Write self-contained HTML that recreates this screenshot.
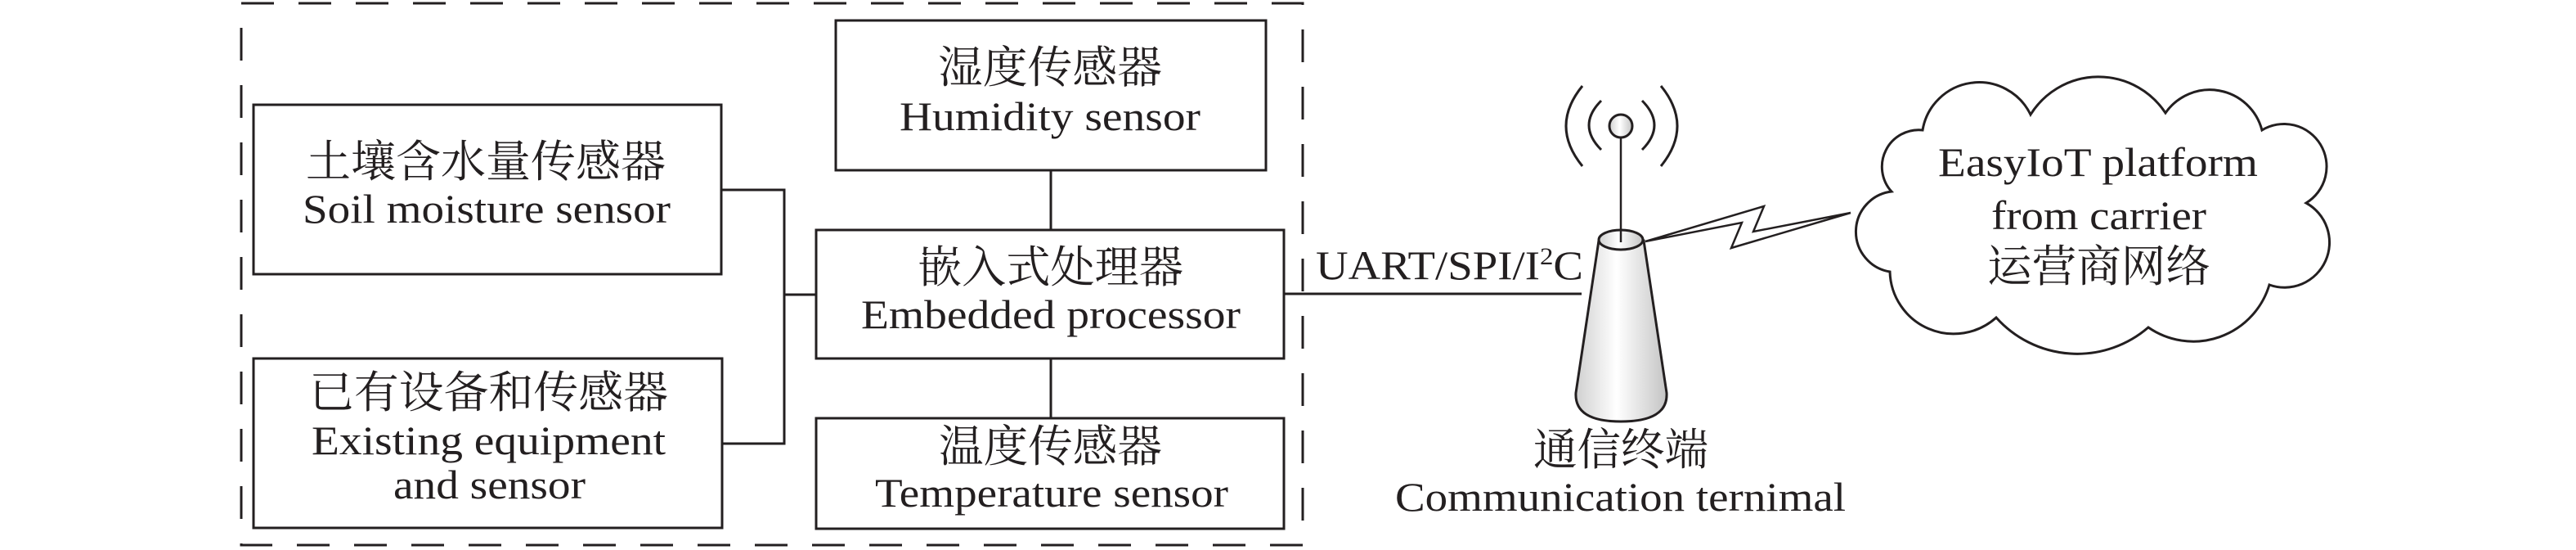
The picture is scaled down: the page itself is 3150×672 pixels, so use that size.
<!DOCTYPE html>
<html><head><meta charset="utf-8"><style>
html,body{margin:0;padding:0;background:#fff;}
svg{display:block;}
.l{font-family:"Liberation Serif",serif;font-size:50px;fill:#231f20;}
.c{font-family:"Liberation Serif","Noto Serif CJK SC",serif;font-size:54px;fill:#231f20;}
</style></head><body>
<svg width="3150" height="672" viewBox="0 0 3150 672" xmlns="http://www.w3.org/2000/svg">
<defs>
<linearGradient id="g" x1="0" x2="1" y1="0" y2="0">
<stop offset="0" stop-color="#d0d0d0"/><stop offset="0.45" stop-color="#ffffff"/><stop offset="1" stop-color="#c4c4c4"/>
</linearGradient>
</defs>
<g fill="none" stroke="#231f20" stroke-width="3">
<rect x="295" y="4" width="1298" height="662" stroke-dasharray="40 30"/>
<rect x="310" y="128" width="572" height="207"/>
<rect x="310" y="438" width="573" height="207"/>
<rect x="1022" y="25" width="526" height="183"/>
<rect x="998" y="281" width="572" height="157"/>
<rect x="998" y="511" width="572" height="135"/>
<polyline points="882,232 959,232 959,542 883,542"/>
<line x1="959" y1="360" x2="998" y2="360"/>
<line x1="1285" y1="208" x2="1285" y2="281"/>
<line x1="1285" y1="438" x2="1285" y2="511"/>
<line x1="1570" y1="359" x2="1934" y2="359"/>
<path d="M1958,123 Q1928,153 1958,183"/>
<path d="M2008,123 Q2038,153 2008,183"/>
<path d="M1935,105 Q1895,154 1935,203"/>
<path d="M2031,105 Q2071,154 2031,203"/>
<path d="M1955,294 L1927,480 Q1925,515 1982,515 Q2040,515 2038,480 L2010,294 Z" fill="url(#g)"/>
<ellipse cx="1982" cy="293" rx="27" ry="12" fill="url(#g)"/>
<line x1="1982" y1="168" x2="1982" y2="296" stroke-width="2.5"/>
<circle cx="1982" cy="154" r="14" fill="url(#g)"/>
<path d="M2012,295 L2157,252 L2144,283 L2263,260 L2117,303 L2130,272 Z" fill="#fff" stroke-width="2.5"/>
<path d="M2313,234 A45,45 0 0 1 2351,159 A70,70 0 0 1 2483,140 A98,98 0 0 1 2648,138 A66,66 0 0 1 2766,159 A52,52 0 0 1 2820,248 A55,55 0 0 1 2775,348 A97,97 0 0 1 2627,400 A133,133 0 0 1 2441,388 A78,78 0 0 1 2311,332 A49.5,49.5 0 0 1 2313,234 Z" fill="#fff"/>
</g>
<text class="c" x="1147" y="101" textLength="274" lengthAdjust="spacingAndGlyphs">湿度传感器</text>
<text class="l" x="1100" y="159" textLength="368" lengthAdjust="spacingAndGlyphs">Humidity sensor</text>
<text class="c" x="374" y="216" textLength="440" lengthAdjust="spacingAndGlyphs">土壤含水量传感器</text>
<text class="l" x="370" y="272" textLength="450" lengthAdjust="spacingAndGlyphs">Soil moisture sensor</text>
<text class="c" x="1122" y="345" textLength="325" lengthAdjust="spacingAndGlyphs">嵌入式处理器</text>
<text class="l" x="1053" y="401" textLength="464" lengthAdjust="spacingAndGlyphs">Embedded processor</text>
<text class="c" x="378" y="498" textLength="439" lengthAdjust="spacingAndGlyphs">已有设备和传感器</text>
<text class="l" x="381" y="555" textLength="433" lengthAdjust="spacingAndGlyphs">Existing equipment</text>
<text class="l" x="481" y="609" textLength="235" lengthAdjust="spacingAndGlyphs">and sensor</text>
<text class="c" x="1148" y="564" textLength="273" lengthAdjust="spacingAndGlyphs">温度传感器</text>
<text class="l" x="1070" y="619" textLength="432" lengthAdjust="spacingAndGlyphs">Temperature sensor</text>
<text class="l" x="1609" y="341" textLength="327" lengthAdjust="spacingAndGlyphs">UART/SPI/I<tspan font-size="30" dy="-18">2</tspan><tspan dy="18">C</tspan></text>
<text class="c" x="1875" y="568" textLength="214" lengthAdjust="spacingAndGlyphs">通信终端</text>
<text class="l" x="1706" y="624" textLength="551" lengthAdjust="spacingAndGlyphs">Communication ternimal</text>
<text class="l" x="2370" y="215" textLength="391" lengthAdjust="spacingAndGlyphs">EasyIoT platform</text>
<text class="l" x="2435" y="280" textLength="263" lengthAdjust="spacingAndGlyphs">from carrier</text>
<text class="c" x="2430" y="344" textLength="273" lengthAdjust="spacingAndGlyphs">运营商网络</text>
</svg>
</body></html>
